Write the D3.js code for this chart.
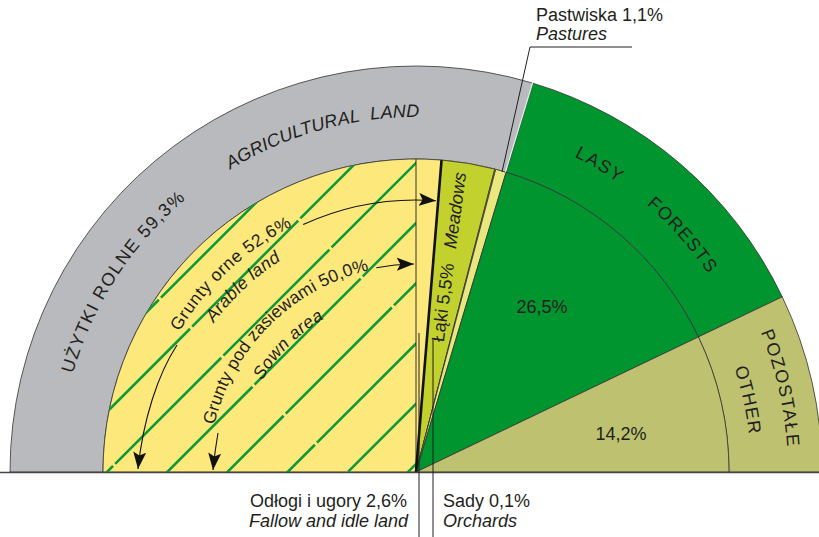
<!DOCTYPE html>
<html>
<head>
<meta charset="utf-8">
<script src="https://cdn.jsdelivr.net/npm/d3@7"></script>
<style>
  body { margin: 0; background: #fff; }
  svg { display: block; font-family: "Liberation Sans", Arial, sans-serif; }
</style>
</head>
<body>
<svg id="chart" width="819" height="537"></svg>
<script>
// ---------- data ----------
const landUse = ["Grunty orne", "Łąki", "Sady", "Pastwiska", "Lasy", "Pozostałe"];
const landShare = [52.6, 5.5, 0.1, 1.1, 26.5, 14.2];
const landColors = ["#fde97b", "#c3d12f", "#c3d12f", "#e9e77e", "#00952f", "#bec270"];

const groups = ["Użytki rolne", "Lasy", "Pozostałe"];
const groupShare = [59.3, 26.5, 14.2];
const groupColors = ["#b9babd", "#00952f", "#bec270"];

const arableParts = ["Grunty pod zasiewami", "Odłogi i ugory"];
const arableShare = [50.0, 2.6];

// ---------- setup ----------
const svg = d3.select("#chart");
const defs = svg.append("defs");
const cx = 416, cy = 472, rIn = 313, rOut = 406;
const ink = "#231f20";
const g = svg.append("g");

const rad = (d) => (d * Math.PI) / 180;
const share = d3.scaleLinear().domain([0, 100]).range([-Math.PI / 2, Math.PI / 2]);
const pie = d3.pie().sort(null).startAngle(-Math.PI / 2).endAngle(Math.PI / 2);

function polar(r, a) {
  return [cx + r * Math.sin(a), cy - r * Math.cos(a)];
}
function arcPath(r, d0, d1) {
  const [x0, y0] = polar(r, rad(d0));
  const [x1, y1] = polar(r, rad(d1));
  return `M${x0},${y0} A${r},${r} 0 ${Math.abs(d1 - d0) > 180 ? 1 : 0} 1 ${x1},${y1}`;
}

// outer ring
const ring = d3.arc().innerRadius(rIn).outerRadius(rOut);
g.selectAll("path.ring")
  .data(pie(groupShare))
  .join("path")
  .attr("class", "ring")
  .attr("transform", `translate(${cx},${cy})`)
  .attr("d", ring)
  .attr("fill", (d, i) => groupColors[i])
  .attr("stroke", "#333")
  .attr("stroke-width", 0.8);

// inner pie
const slice = d3.arc().innerRadius(0).outerRadius(rIn);
const innerArcs = pie(landShare);
g.selectAll("path.slice")
  .data(innerArcs)
  .join("path")
  .attr("class", "slice")
  .attr("transform", `translate(${cx},${cy})`)
  .attr("d", slice)
  .attr("fill", (d, i) => landColors[i])
  .attr("stroke", "#333")
  .attr("stroke-width", 0.8);

// sown area hatching
const sown = { startAngle: share(0), endAngle: share(arableShare[0]) };
defs.append("clipPath").attr("id", "sownClip")
  .append("path")
  .attr("transform", `translate(${cx},${cy})`)
  .attr("d", slice(sown));

const hatch = g.append("g").attr("clip-path", "url(#sownClip)");
for (let k = -7; k <= 6; k++) {
  const x0 = 107 + 60.2 * k;
  hatch.append("line")
    .attr("x1", x0 - 100).attr("y1", cy + 100)
    .attr("x2", x0 + 420).attr("y2", cy - 420)
    .attr("stroke", "#0f9a3a")
    .attr("stroke-width", 2.6)
    .attr("stroke-dasharray", "150,3")
    .attr("stroke-dashoffset", k * 41);
}

// sown / fallow boundary
const [bx, by] = polar(rIn, share(arableShare[0]));
g.append("line")
  .attr("x1", cx).attr("y1", cy).attr("x2", bx).attr("y2", by)
  .attr("stroke", "#333").attr("stroke-width", 1);

// arable / meadows boundary (thick)
const [mx, my] = polar(rIn, innerArcs[0].endAngle);
g.append("line")
  .attr("x1", cx).attr("y1", cy).attr("x2", mx).attr("y2", my)
  .attr("stroke", "#111").attr("stroke-width", 2.6);

// baseline
g.append("line")
  .attr("x1", 0).attr("x2", 819).attr("y1", cy + 0.5).attr("y2", cy + 0.5)
  .attr("stroke", "#444").attr("stroke-width", 1.6);

// ---------- leader lines ----------
const lead = g.append("g").attr("fill", "none").attr("stroke", ink).attr("stroke-width", 1);
lead.append("path").attr("d", "M419,333 L419,537");
lead.append("path").attr("d", "M433,340 L433,537");
g.append("path").attr("d", "M505.5,172 L533.5,80").attr("stroke", "#eee").attr("stroke-width", 1.2);
lead.append("path").attr("d", "M502,172 L530,47 L632,47");

// ---------- arrows ----------
defs.append("marker")
  .attr("id", "head")
  .attr("viewBox", "0 -7 18 14")
  .attr("markerUnits", "userSpaceOnUse")
  .attr("markerWidth", 18).attr("markerHeight", 14)
  .attr("refX", 17).attr("refY", 0)
  .attr("orient", "auto")
  .append("path")
  .attr("d", "M0,-6.5 L17,0 L0,6.5 L3.5,0 Z")
  .attr("fill", "#111");

const arrows = g.append("g").attr("fill", "none").attr("stroke", "#111").attr("stroke-width", 1.1);
arrows.append("path").attr("d", arcPath(272, -24.5, 4.2)).attr("marker-end", "url(#head)");
arrows.append("path").attr("d", arcPath(208, -11, -0.6)).attr("marker-end", "url(#head)");
arrows.append("path").attr("d", "M177,345 C158,374 143,420 138,469").attr("marker-end", "url(#head)");
arrows.append("path").attr("d", "M218,433 Q215,450 213,470").attr("marker-end", "url(#head)");

// ---------- labels ----------
const labels = svg.append("g").attr("fill", ink).attr("font-size", 18);

let pathId = 0;
function arcLabel(r, mid, text, opts = {}) {
  const id = "tp" + pathId++;
  defs.append("path").attr("id", id).attr("d", arcPath(r, mid - 70, mid + 70));
  labels.append("text")
    .attr("font-size", opts.size || 18)
    .attr("letter-spacing", opts.ls || 0)
    .attr("font-style", opts.italic ? "italic" : null)
    .style("white-space", "pre")
    .append("textPath")
    .attr("href", "#" + id)
    .attr("startOffset", "50%")
    .attr("text-anchor", "middle")
    .text(text);
}

arcLabel(357, -57, "UŻYTKI ROLNE 59,3%", { ls: 1.4 });
arcLabel(355, -15.5, "AGRICULTURAL  LAND", { italic: true, ls: 0.2 });
arcLabel(353, 30.9, "LASY", { ls: 1.6 });
arcLabel(353, 48.4, "FORESTS", { ls: 1.3 });
arcLabel(372, 77.1, "POZOSTAŁE", { ls: 1.4 });
arcLabel(335, 77.8, "OTHER", { ls: 1.3 });
arcLabel(275, -43, "Grunty orne 52,6%", { ls: 0.6, size: 17.5 });
arcLabel(251, -43, "Arable land", { italic: true, ls: 0.4, size: 17.5 });
arcLabel(207, -45, "Grunty pod zasiewami 50,0%", { ls: 0.1, size: 17.5 });
arcLabel(179, -45, "Sown area", { italic: true, ls: 0.6, size: 17.5 });

// meadows (straight, along the slice)
const meadow = labels.append("text")
  .attr("transform", "translate(449,257) rotate(-82.5)")
  .attr("text-anchor", "middle")
  .attr("dominant-baseline", "central")
  .style("white-space", "pre");
meadow.append("tspan").text("Łąki 5,5%   ");
meadow.append("tspan").attr("font-style", "italic").text("Meadows");

// slice values
labels.append("text").attr("x", 542).attr("y", 313).attr("text-anchor", "middle").text("26,5%");
labels.append("text").attr("x", 621).attr("y", 440).attr("text-anchor", "middle").text("14,2%");

// outside labels
labels.append("text").attr("x", 536).attr("y", 21).text("Pastwiska 1,1%");
labels.append("text").attr("x", 536).attr("y", 40).attr("font-style", "italic").text("Pastures");
labels.append("text").attr("x", 407).attr("y", 507).attr("text-anchor", "end").text("Odłogi i ugory 2,6%");
labels.append("text").attr("x", 408).attr("y", 527).attr("text-anchor", "end").attr("font-style", "italic").text("Fallow and idle land");
labels.append("text").attr("x", 443).attr("y", 507).text("Sady 0,1%");
labels.append("text").attr("x", 443).attr("y", 527).attr("font-style", "italic").text("Orchards");
</script>
</body>
</html>
